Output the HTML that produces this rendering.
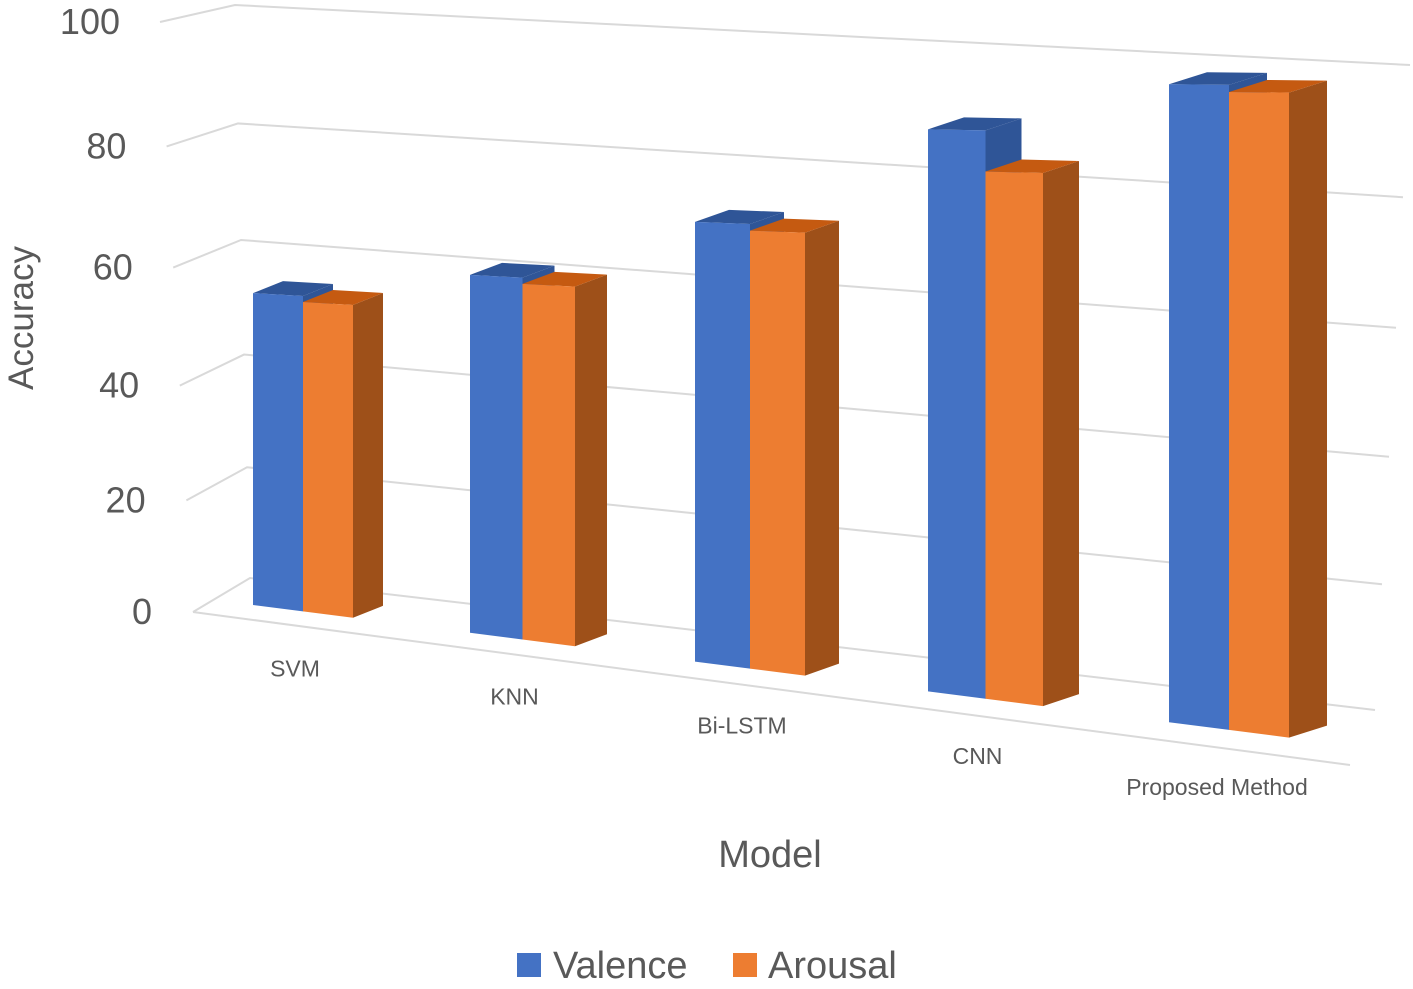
<!DOCTYPE html>
<html><head><meta charset="utf-8"><style>
body{margin:0;background:#fff;}
svg text{font-family:"Liberation Sans",sans-serif;fill:#595959;}
</style></head><body>
<svg id="chart" width="1413" height="984" viewBox="0 0 1413 984" xmlns="http://www.w3.org/2000/svg">
<g id="grid"></g>
<g id="bars"></g>
<g id="labels"></g>
<text transform="translate(33,318) rotate(-90)" text-anchor="middle" font-size="35">Accuracy</text>
<text x="770" y="867" text-anchor="middle" font-size="38">Model</text>
<g>
<rect x="517" y="953" width="24" height="24" fill="#4472C4"/>
<text x="553" y="978" font-size="38">Valence</text>
<rect x="733" y="953" width="24" height="24" fill="#ED7D31"/>
<text x="768" y="978" font-size="38">Arousal</text>
</g>
</svg>
<script>
const categories = ["SVM","KNN","Bi-LSTM","CNN","Proposed Method"];
const valence = [53,58,68,83,90];
const arousal = [52,57,67,77,89];
const yTicks = [0,20,40,60,80,100];

const NS="http://www.w3.org/2000/svg";
function mk(tag,attrs,parent){const e=document.createElementNS(NS,tag);for(const k in attrs)e.setAttribute(k,attrs[k]);parent.appendChild(e);return e;}
const grid=document.getElementById('grid'),bars=document.getElementById('bars'),labels=document.getElementById('labels');

function lerp(a,b,t){return a+(b-a)*t;}
yTicks.forEach(v=>{
  const t=v/100;
  const bump=40*t*(1-t);
  const sx=lerp(193,160,t), sy=lerp(612,22,t)+bump;
  const cx=lerp(250,235,t), cy=lerp(578,5,t)+bump*0.6;
  const ex=lerp(1375,1410,t), ey=lerp(710,65,t)+bump*0.5;
  const p=mk('polyline',{points:`${sx},${sy} ${cx},${cy} ${ex},${ey}`,fill:'none',stroke:'#d9d9d9','stroke-width':2},grid);
  
  
  const tx=lerp(152,120,t), ty=sy+12;
  const lb=mk('text',{x:tx,y:ty,'text-anchor':'end','font-size':36},labels);
  lb.textContent=v;
  
  
});
const fl=mk('line',{x1:193,y1:612,x2:1350,y2:765,stroke:'#d9d9d9','stroke-width':2},grid);



function baseY(x){return 605+0.128*(x-253);}
function H(x){return 592+0.1315*(x-280);}
function topY(x,v){return baseY(x)-v/100*H(x);}
function xLeft(i){return 253+213*i+4*i*i;}

function drawBar(xl,w,v,dx,dy,front,top,side,name){
  const xr=xl+w;
  const tl=topY(xl,v), tr=topY(xr,v), bl=baseY(xl), br=baseY(xr);
  const g=mk('g',{},bars);
  
  
  mk('polygon',{points:`${xr},${tr} ${xr+dx},${tr+dy} ${xr+dx},${br+dy} ${xr},${br}`,fill:side},g);
  mk('polygon',{points:`${xl},${tl} ${xl+dx},${tl+dy} ${xr+dx},${tr+dy} ${xr},${tr}`,fill:top},g);
  mk('polygon',{points:`${xl},${tl} ${xr},${tr} ${xr},${br} ${xl},${bl}`,fill:front},g);
}
categories.forEach((c,i)=>{
  const xl=xLeft(i), w=50+2.5*i, dx=30+2*i, dy=-12;
  drawBar(xl+w,w,arousal[i],dx,dy,'#ED7D31','#C55A11','#9E5019','bar-arousal-'+i);
  drawBar(xl,w,valence[i],dx,dy,'#4472C4','#2F5597','#2F5597','bar-valence-'+i);
  const a=bars.lastChild; bars.insertBefore(a,bars.children[bars.children.length-2]);
  const lb=mk('text',{x:xl+w+(i===4?-12:-8),y:baseY(xl+w)+65,'text-anchor':'middle','font-size':23},labels);
  lb.textContent=c;
  
  
});
</script>
</body></html>
